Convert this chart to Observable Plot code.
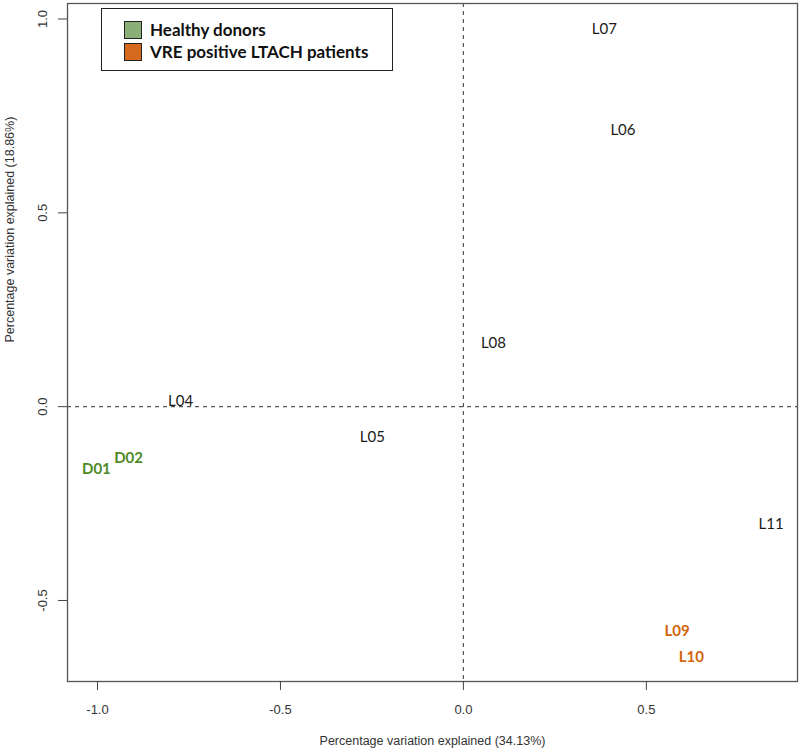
<!DOCTYPE html>
<html><head><meta charset="utf-8">
<script src="https://cdn.jsdelivr.net/npm/d3@7"></script>
<script src="https://cdn.jsdelivr.net/npm/@observablehq/plot@0.6"></script>
<style>
body{margin:0;background:#fff;}
#wrap{position:relative;width:800px;height:752px;}
#legend{position:absolute;left:101px;top:8px;width:290px;height:61px;border:1.5px solid #222;background:#fff;font-family:Lato,"Open Sans",sans-serif;font-weight:bold;font-size:17px;color:#111;}
.row{position:absolute;left:22px;display:flex;align-items:center;}
.sw{width:16px;height:16px;border:1.5px solid #222;margin-right:8px;}
</style>
</head><body>
<div id="wrap"><div id="legend"></div></div>
<script>
const samples = ["D01","D02","L04","L05","L06","L07","L08","L09","L10","L11"];
const pc1 = [-1.003,-0.915,-0.773,-0.249,0.436,0.385,0.082,0.584,0.623,0.841];
const pc2 = [-0.162,-0.132,0.015,-0.080,0.712,0.975,0.165,-0.578,-0.647,-0.304];
const group = ["Healthy donors","Healthy donors","other","other","other","other","other","VRE positive LTACH patients","VRE positive LTACH patients","other"];
const xTicks = [-1.0,-0.5,0.0,0.5];
const yTicks = [-0.5,0.0,0.5,1.0];
const legendNames = ["Healthy donors","VRE positive LTACH patients"];
const legendColors = ["#8BAF78","#D5691D"];
const textColors = {"Healthy donors":"#4E8A26","VRE positive LTACH patients":"#D2650E","other":"#1a1a1a"};

const data = samples.map((s,i)=>({s, x:pc1[i], y:pc2[i], g:group[i]}));
const fmt = d => d.toFixed(1);

const plot = Plot.plot({
  width:800, height:752,
  marginLeft:67, marginRight:3, marginTop:3, marginBottom:71,
  x:{domain:[-1.082,0.913]},
  y:{domain:[-0.709,1.04]},
  style:{fontFamily:"Liberation Sans, Arial, sans-serif", fontSize:"13px", color:"#222"},
  marks:[
    Plot.ruleX([0],{stroke:"#555",strokeDasharray:"4,4",strokeWidth:1.2}),
    Plot.ruleY([0],{stroke:"#555",strokeDasharray:"4,4",strokeWidth:1.2}),
    Plot.frame({stroke:"#555",strokeWidth:1.3}),
    Plot.axisX(xTicks,{tickSize:9,tickPadding:14,tickFormat:fmt,label:null,fontSize:13,stroke:"#444",fill:"#333"}),
    Plot.axisY(yTicks,{tickSize:9,tickFormat:()=>"",label:null,stroke:"#444"}),
    Plot.text(yTicks,{y:d=>d,text:d=>fmt(d),frameAnchor:"left",dx:-25,rotate:-90,textAnchor:"middle",fontSize:13,fill:"#333"}),
    Plot.text(["Percentage variation explained (34.13%)"],{frameAnchor:"bottom",dy:63,fontSize:12.5,fill:"#333"}),
    Plot.text(["Percentage variation explained (18.86%)"],{frameAnchor:"left",dx:-58,rotate:-90,fontSize:12.5,fill:"#333"}),
    Plot.text(data.filter(d=>d.g==="other"),{x:"x",y:"y",text:"s",fill:d=>textColors[d.g],fontFamily:"Lato, Open Sans, sans-serif",fontSize:15}),
    Plot.text(data.filter(d=>d.g!=="other"),{x:"x",y:"y",text:"s",fill:d=>textColors[d.g],fontFamily:"Lato, Open Sans, sans-serif",fontSize:15,fontWeight:"bold"})
  ]
});
document.getElementById("wrap").prepend(plot);
plot.style.position="absolute";plot.style.left="0";plot.style.top="0";

const leg = document.getElementById("legend");
legendNames.forEach((n,i)=>{
  const r=document.createElement("div");r.className="row";r.style.top=(10+i*22)+"px";
  const sw=document.createElement("div");sw.className="sw";sw.style.background=legendColors[i];
  const t=document.createElement("span");t.textContent=n;
  r.appendChild(sw);r.appendChild(t);leg.appendChild(r);
});
</script>
</body></html>
